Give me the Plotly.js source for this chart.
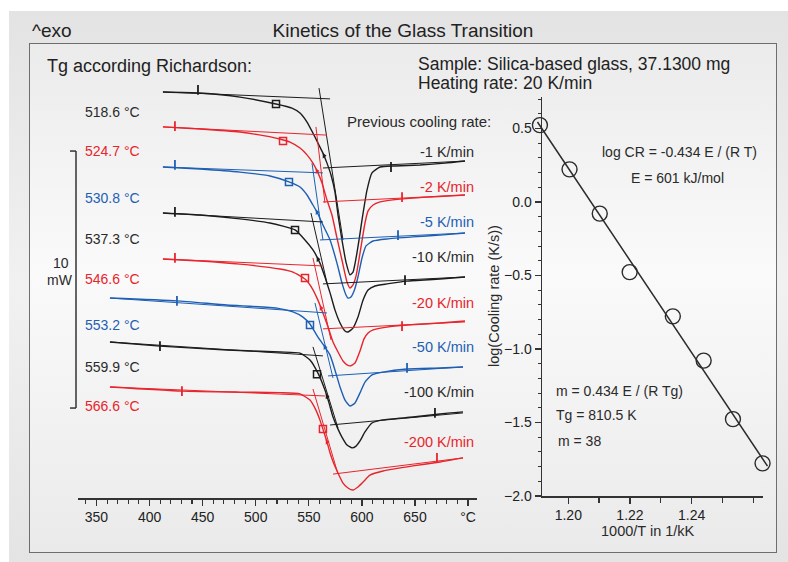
<!DOCTYPE html>
<html>
<head>
<meta charset="utf-8">
<script src="https://cdn.plot.ly/plotly-3.0.1.min.js"></script>
<style>
  html, body { margin:0; padding:0; background:#ffffff; overflow:hidden; }
  #outer { position:absolute; left:9px; top:11px; width:779px; height:551px;
           background:linear-gradient(#e3e3e3, #f1f1f1 50%, #e4e4e4); }
  #inner { position:absolute; left:29px; top:43px; width:746px; height:508px;
           border:1.5px solid #6e6e6e;
           background:linear-gradient(#ebebeb, #fafafa 45%, #eaeaea); }
  #chart { position:absolute; left:0; top:0; width:788px; height:562px; }
</style>
</head>
<body>
<div id="outer"></div>
<div id="inner"></div>
<div id="chart"></div>
<script>
// ---------------- DATA ----------------
const rateLabels = ['-1 K/min', '-2 K/min', '-5 K/min', '-10 K/min', '-20 K/min', '-50 K/min', '-100 K/min', '-200 K/min'];
const tgLabels = ['518.6 \u00B0C', '524.7 \u00B0C', '530.8 \u00B0C', '537.3 \u00B0C', '546.6 \u00B0C', '553.2 \u00B0C', '559.9 \u00B0C', '566.6 \u00B0C'];

// DSC curves: temperature (°C) and heat flow (mW, stacked with offsets)
const T1 = [412.6, 447.5, 485.2, 519.1, 534.1, 541.7, 548.3, 553.9, 558.6, 563.3, 567.1, 570.9, 574.6, 577.5, 581.2, 585.0, 588.8, 591.6, 594.5, 597.3, 600.1, 604.8, 609.5, 617.1, 631.2, 654.7, 678.2, 697.1];
const Q1 = [15.80, 15.76, 15.60, 15.33, 15.17, 14.98, 14.63, 14.20, 13.81, 13.42, 13.03, 12.57, 11.91, 11.01, 10.04, 9.18, 8.68, 8.79, 9.34, 10.04, 10.82, 11.98, 12.65, 12.88, 12.92, 12.96, 13.03, 13.11];
const T2 = [412.6, 447.5, 485.2, 508.7, 522.8, 532.3, 541.7, 548.3, 553.9, 558.6, 562.4, 567.1, 571.8, 576.5, 581.2, 586.0, 588.8, 591.6, 594.5, 598.2, 602.9, 605.8, 610.5, 617.1, 635.9, 664.1, 697.1];
const Q2 = [14.44, 14.36, 14.24, 14.09, 13.97, 13.85, 13.62, 13.35, 13.03, 12.65, 12.26, 11.60, 11.01, 10.12, 9.26, 8.40, 8.17, 8.29, 8.64, 9.53, 10.70, 11.17, 11.40, 11.52, 11.63, 11.71, 11.79];
const T3 = [412.6, 447.5, 485.2, 513.4, 531.3, 541.7, 548.3, 553.9, 558.6, 563.3, 570.0, 576.5, 581.2, 585.0, 586.9, 589.7, 592.6, 596.3, 600.1, 603.9, 610.5, 623.6, 648.1, 673.5, 697.1];
const Q3 = [12.88, 12.80, 12.68, 12.53, 12.30, 12.10, 11.79, 11.40, 11.05, 10.62, 10.04, 9.14, 8.37, 7.90, 7.78, 7.82, 8.05, 8.60, 9.34, 9.81, 10.00, 10.08, 10.16, 10.23, 10.31];
const T4 = [412.6, 447.5, 485.2, 513.4, 537.0, 546.4, 553.9, 560.5, 565.2, 570.0, 574.6, 579.4, 584.1, 586.9, 591.6, 596.3, 601.1, 605.8, 612.3, 623.6, 642.5, 673.5, 697.1];
const Q4 = [11.09, 11.01, 10.86, 10.70, 10.43, 10.04, 9.65, 9.14, 8.60, 7.98, 7.32, 6.81, 6.50, 6.46, 6.61, 7.04, 7.70, 8.09, 8.25, 8.33, 8.44, 8.52, 8.60];
const T5 = [412.6, 447.5, 485.2, 522.8, 535.1, 546.4, 553.0, 558.6, 563.3, 568.1, 572.8, 577.5, 582.2, 586.0, 588.8, 593.5, 598.2, 602.0, 605.8, 610.5, 623.6, 642.5, 673.5, 697.1];
const Q5 = [9.30, 9.22, 9.10, 8.91, 8.79, 8.52, 8.17, 7.70, 7.20, 6.65, 6.07, 5.68, 5.33, 5.18, 5.14, 5.25, 5.72, 6.19, 6.42, 6.54, 6.65, 6.73, 6.81, 6.89];
const T6 = [362.7, 425.8, 472.9, 520.0, 535.1, 544.5, 551.1, 558.6, 563.3, 570.0, 574.6, 579.4, 584.1, 588.8, 593.5, 598.2, 602.9, 609.5, 619.9, 642.5, 673.5, 695.2];
const Q6 = [7.78, 7.67, 7.51, 7.39, 7.24, 7.04, 6.77, 6.26, 5.99, 5.56, 4.98, 4.32, 3.81, 3.58, 3.70, 4.09, 4.51, 4.79, 4.90, 5.02, 5.06, 5.10];
const T7 = [362.7, 409.8, 472.9, 522.8, 541.7, 551.1, 558.6, 565.2, 569.0, 572.8, 577.5, 581.2, 586.0, 590.7, 594.5, 598.2, 602.9, 609.5, 619.9, 648.1, 673.5, 695.2];
const Q7 = [6.07, 5.91, 5.76, 5.68, 5.64, 5.37, 4.86, 4.20, 3.70, 3.15, 2.68, 2.37, 2.06, 1.95, 2.02, 2.22, 2.57, 2.92, 3.04, 3.15, 3.27, 3.35];
const T8 = [362.7, 430.5, 485.2, 522.8, 541.7, 551.1, 556.7, 560.5, 563.3, 567.1, 570.0, 573.7, 577.5, 582.2, 586.9, 591.6, 596.3, 601.1, 607.6, 619.9, 648.1, 673.5, 695.2];
const Q8 = [4.32, 4.16, 4.12, 4.10, 4.05, 3.81, 3.42, 3.03, 2.68, 2.18, 1.75, 1.32, 0.97, 0.58, 0.39, 0.31, 0.43, 0.62, 0.89, 1.05, 1.25, 1.40, 1.56];

// evaluation constructions (Richardson): end points of the straight lines
const preT  = [[412.6, 570.0], [412.6, 567.1], [412.6, 563.3], [412.6, 563.3], [412.6, 563.3], [362.7, 567.1], [362.7, 563.3], [362.7, 565.2]];
const preQ  = [[15.80, 15.53], [14.44, 14.12], [12.88, 12.65], [11.09, 10.74], [9.30, 9.03], [7.78, 7.20], [6.07, 5.53], [4.32, 3.97]];
const stT   = [[559.6, 582.2], [556.7, 565.2], [553.0, 563.3], [552.0, 567.1], [553.9, 570.9], [555.8, 572.8], [553.9, 577.5], [553.9, 577.5]];
const stQ   = [[15.95, 10.04], [14.44, 11.48], [13.03, 10.04], [11.09, 8.37], [9.34, 6.15], [7.59, 4.67], [5.88, 2.72], [4.24, 0.93]];
const postT = [[563.3, 697.1], [563.3, 697.1], [560.5, 697.1], [563.3, 697.1], [563.3, 697.1], [568.1, 695.2], [570.0, 695.2], [572.8, 695.2]];
const postQ = [[12.84, 13.11], [11.52, 11.79], [10.04, 10.31], [8.33, 8.60], [6.58, 6.85], [4.75, 5.10], [2.84, 3.31], [0.93, 1.56]];
const onsetT = [519.1, 525.7, 531.3, 537.0, 546.4, 551.1, 557.7, 563.3];
const onsetQ = [15.33, 13.89, 12.30, 10.43, 8.56, 6.73, 4.82, 2.68];
const flagLT = [445.6, 423.9, 423.9, 423.9, 423.9, 425.8, 409.8, 430.5];
const flagLQ = [15.88, 14.47, 12.96, 11.13, 9.34, 7.67, 5.91, 4.16];
const flagRT = [627.4, 637.8, 634.0, 640.6, 637.8, 642.5, 668.8, 670.7];
const flagRQ = [12.88, 11.71, 10.23, 8.48, 6.69, 5.06, 3.31, 1.56];
const tgMarkT = [564.3, 557.7, 557.7, 558.6, 561.5, 565.2, 567.1, 567.1];
const tgMarkQ = [13.32, 12.72, 11.12, 9.29, 7.39, 5.87, 3.95, 2.18];
const scaleBarQ = [3.5, 13.5]; // 10 mW

// Arrhenius-type plot
const invT  = [1.1908, 1.2004, 1.2102, 1.2199, 1.2339, 1.2439, 1.2534, 1.2630];
const logCR = [0.523, 0.222, -0.079, -0.477, -0.778, -1.079, -1.477, -1.778];
const fitX  = [1.1900, 1.2646];
const fitY  = [0.544, -1.797];
const invTTicks = [1.20, 1.22, 1.24];

// ---------------- STYLE ----------------
const K = '#1c1c1c', R = '#e8242c', B = '#1e5fb4';
const colors = [K, R, B, K, R, B, K, R];
const textColors = ['#2a2a2a', '#e8242c', '#1e5fb4', '#2a2a2a', '#e8242c', '#1e5fb4', '#2a2a2a', '#e8242c'];
const FONT = 'Liberation Sans, Arial, Helvetica, sans-serif';
const W = 788, H = 562;
const px = v => v / W, py = v => 1 - v / H;

const curvesT = [T1, T2, T3, T4, T5, T6, T7, T8];
const curvesQ = [Q1, Q2, Q3, Q4, Q5, Q6, Q7, Q8];

const traces = [];
for (let i = 0; i < 8; i++) {
  const c = colors[i];
  traces.push({ x: preT[i], y: preQ[i], mode: 'lines', line: { color: c, width: 1 }, xaxis: 'x', yaxis: 'y', hoverinfo: 'skip' });
  traces.push({ x: stT[i], y: stQ[i], mode: 'lines', line: { color: c, width: 1 }, xaxis: 'x', yaxis: 'y', hoverinfo: 'skip' });
  traces.push({ x: postT[i], y: postQ[i], mode: 'lines', line: { color: c, width: 1 }, xaxis: 'x', yaxis: 'y', hoverinfo: 'skip' });
  traces.push({ x: curvesT[i], y: curvesQ[i], mode: 'lines', line: { color: c, width: 1.4, shape: 'spline', smoothing: 0.5 }, xaxis: 'x', yaxis: 'y', hoverinfo: 'skip' });
}
traces.push({ x: onsetT, y: onsetQ, mode: 'markers', xaxis: 'x', yaxis: 'y', hoverinfo: 'skip',
  marker: { symbol: 'square-open', size: 7, color: colors, line: { width: 1.5, color: colors } } });
traces.push({ x: flagLT.concat(flagRT), y: flagLQ.concat(flagRQ), mode: 'markers', xaxis: 'x', yaxis: 'y', hoverinfo: 'skip',
  marker: { symbol: 'line-ns', size: 7, color: colors.concat(colors), line: { width: 1.8, color: colors.concat(colors) } } });
traces.push({ x: tgMarkT, y: tgMarkQ, mode: 'markers', xaxis: 'x', yaxis: 'y', hoverinfo: 'skip',
  marker: { symbol: 'triangle-right', size: 5, color: colors } });

// right panel: circles and fit line drawn on an invisible axis with the same scale
// but a wider domain, so the end circles and the line can reach past the axis lines
traces.push({ x: fitX, y: fitY, mode: 'lines', line: { color: '#2b2b2b', width: 1.5 }, xaxis: 'x3', yaxis: 'y3', hoverinfo: 'skip' });
traces.push({ x: invT, y: logCR, mode: 'markers', xaxis: 'x3', yaxis: 'y3', cliponaxis: false, hoverinfo: 'skip',
  marker: { symbol: 'circle-open', size: 15, color: '#2b2b2b', line: { width: 1.4, color: '#2b2b2b' } } });
// empty trace to create the visible x2/y2 axes
traces.push({ x: [], y: [], mode: 'markers', xaxis: 'x2', yaxis: 'y2', hoverinfo: 'skip' });

const axisCommon = {
  showline: true, linecolor: '#333', linewidth: 1.5, showgrid: false, zeroline: false,
  ticks: 'outside', tickcolor: '#333', tickwidth: 1.3, ticklen: 6,
  tickfont: { family: FONT, size: 14, color: '#222' }
};

const annotations = [];
function txt(t, x, y, opts) {
  annotations.push(Object.assign({ text: t, x: px(x), y: py(y), xref: 'paper', yref: 'paper',
    showarrow: false, xanchor: 'left', yanchor: 'middle',
    font: { family: FONT, size: 14, color: '#2a2a2a' } }, opts || {}));
}
txt('^exo', 30, 31, { font: { family: FONT, size: 19, color: '#222' } });
txt('Tg according Richardson:', 45, 66, { font: { family: FONT, size: 18, color: '#222' } });
txt('Sample: Silica-based glass, 37.1300 mg', 416, 64, { font: { family: FONT, size: 17.5, color: '#222' } });
txt('Heating rate: 20 K/min', 416, 83, { font: { family: FONT, size: 17.5, color: '#222' } });
txt('Previous cooling rate:', 345, 121, { font: { family: FONT, size: 15, color: '#2a2a2a' } });
const rateY = [152, 187, 222, 257, 303, 347, 392, 442];
const tgY = [112, 151, 198, 239, 279, 325, 367, 406];
for (let i = 0; i < 8; i++) {
  txt(rateLabels[i], 476, rateY[i], { xanchor: 'right', font: { family: FONT, size: 14.5, color: textColors[i] } });
  txt(tgLabels[i], 83, tgY[i], { font: { family: FONT, size: 14, color: textColors[i] } });
}
txt('10', 61, 263, { xanchor: 'center' });
txt('mW', 60, 280, { xanchor: 'center' });
txt('log CR = -0.434 E / (R T)', 600, 152);
txt('E = 601 kJ/mol', 629, 178);
txt('m = 0.434 E / (R Tg)', 554, 391);
txt('Tg = 810.5 K', 554, 415);
txt('m = 38', 556, 441);
txt('log(Cooling rate (K/s))', 494, 296, { xanchor: 'center', textangle: -90, font: { family: FONT, size: 14.5, color: '#2a2a2a' } });
txt('1000/T in 1/kK', 648, 531, { xanchor: 'center', font: { family: FONT, size: 14.5, color: '#2a2a2a' } });

// right x scale: 30.83 px per 0.01 (1/kK); 1.20 at x=568.3 px
const S2 = 3083.3, X0 = 568.3;
const x2Range = [1.20 - (X0 - 542) / S2, 1.20 + (763 - X0) / S2];
const x3Range = [1.20 - (X0 - 520) / S2, 1.20 + (785 - X0) / S2];

const layout = {
  width: W, height: H,
  margin: { l: 0, r: 0, t: 0, b: 0, pad: 0 },
  paper_bgcolor: 'rgba(0,0,0,0)', plot_bgcolor: 'rgba(0,0,0,0)',
  showlegend: false,
  font: { family: FONT, color: '#2a2a2a' },
  title: { text: 'Kinetics of the Glass Transition', x: px(403), y: py(30), xanchor: 'center', yanchor: 'middle',
           font: { family: FONT, size: 19, color: '#222' } },
  xaxis: Object.assign({}, axisCommon, {
    domain: [px(78), px(477)], range: [332.6, 708.4], anchor: 'y',
    tickmode: 'linear', tick0: 350, dtick: 50, labelalias: { '700': '\u00B0C' },
    minor: { tickmode: 'linear', tick0: 350, dtick: 10, ticks: 'outside', ticklen: 4, tickcolor: '#333', tickwidth: 1.1, showgrid: false }
  }),
  yaxis: { domain: [1 - 498 / H, 1 - 85 / H], range: [0, 16.07], visible: false, anchor: 'x' },
  xaxis2: Object.assign({}, axisCommon, {
    domain: [px(542), px(763)], range: x2Range, anchor: 'y2',
    tickmode: 'array', tickvals: invTTicks, ticktext: invTTicks.map(v => v.toFixed(2)),
    minor: { tickmode: 'linear', tick0: 1.20, dtick: 0.01, ticks: 'outside', ticklen: 5, tickcolor: '#333', tickwidth: 1.3, showgrid: false }
  }),
  yaxis2: Object.assign({}, axisCommon, {
    domain: [1 - 496 / H, 1 - 97 / H], range: [-2.0, 0.714], anchor: 'x2',
    tickmode: 'linear', tick0: 0, dtick: 0.5, tickformat: '.1f',
    minor: { tickmode: 'linear', tick0: 0, dtick: 0.1, ticks: 'outside', ticklen: 3, tickcolor: '#333', tickwidth: 1.1, showgrid: false }
  }),
  xaxis3: { domain: [px(520), px(785)], range: x3Range, anchor: 'y3', visible: false },
  yaxis3: { domain: [1 - 496 / H, 1 - 97 / H], range: [-2.0, 0.714], anchor: 'x3', visible: false },
  shapes: [
    { type: 'line', xref: 'paper', yref: 'y', x0: px(76), x1: px(76), y0: scaleBarQ[0], y1: scaleBarQ[1], line: { color: '#333', width: 1.5 } },
    { type: 'line', xref: 'paper', yref: 'y', x0: px(70), x1: px(76), y0: scaleBarQ[0], y1: scaleBarQ[0], line: { color: '#333', width: 1.5 } },
    { type: 'line', xref: 'paper', yref: 'y', x0: px(70), x1: px(76), y0: scaleBarQ[1], y1: scaleBarQ[1], line: { color: '#333', width: 1.5 } }
  ],
  annotations: annotations
};

Plotly.newPlot('chart', traces, layout, { staticPlot: true, displayModeBar: false });
</script>
</body>
</html>
